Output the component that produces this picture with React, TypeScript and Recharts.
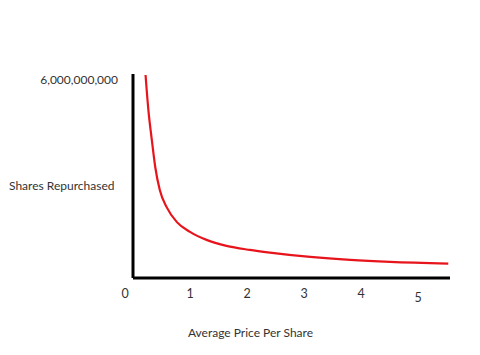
import { LineChart, Line, XAxis, YAxis, Label } from 'recharts'

// price per share vs shares repurchased (billions)
const prices = [0.22, 0.27, 0.33, 0.39, 0.47, 0.59, 0.77, 1.0, 1.29, 1.64, 2.05, 2.4, 3.11, 3.81, 4.51, 5.53]
const sharesBn = [6.07, 5.02, 4.13, 3.32, 2.63, 2.12, 1.67, 1.38, 1.14, 0.96, 0.84, 0.76, 0.63, 0.54, 0.48, 0.43]
const xTicks = [0, 1, 2, 3, 4, 5]
const yTicks = [6000000000]

const data = prices.map((p, i) => ({ price: p, shares: sharesBn[i] * 1e9 }))

const FONT = 'Lato, "Open Sans", sans-serif'
const TEXT = '#333'

function PriceTick({ x, y, payload }: any) {
  // hand-drawn look: the 0 sits left of the origin, the 5 a little lower
  const dx = payload.value === 0 ? -8 : 0
  const dy = payload.value === 5 ? 4 : 0
  return (
    <text x={x + dx} y={y + dy} dy={14} textAnchor="middle" fill={TEXT} fontSize={12.5} fontFamily={FONT}>
      {payload.value}
    </text>
  )
}

export default function App() {
  return (
    <div style={{ position: 'absolute', left: 0, top: 0, width: 480, height: 355, background: '#fff' }}>
      <LineChart width={480} height={355} data={data} margin={{ top: 74, right: 30, bottom: 0, left: 0 }}>
        <XAxis
          type="number"
          dataKey="price"
          domain={[0, 5.56]}
          ticks={xTicks}
          allowDataOverflow
          height={77}
          tickLine={false}
          tickSize={0}
          tickMargin={6}
          axisLine={{ stroke: '#000', strokeWidth: 3 }}
          tick={<PriceTick />}
        >
          <Label
            value="Average Price Per Share"
            position="insideBottom"
            offset={18}
            dx={-41}
            style={{ fontSize: 12, fontFamily: FONT, fill: TEXT }}
          />
        </XAxis>
        <YAxis
          type="number"
          domain={[0, 6.1e9]}
          ticks={yTicks}
          allowDataOverflow
          width={133}
          tickLine={false}
          tickSize={0}
          tickMargin={15}
          axisLine={{ stroke: '#000', strokeWidth: 3 }}
          tickFormatter={(v: number) => v.toLocaleString('en-US')}
          tick={{ fontSize: 12, fontFamily: FONT, fill: TEXT, dy: 2 }}
        >
          <Label
            value="Shares Repurchased"
            position="insideLeft"
            offset={9}
            dy={10}
            style={{ fontSize: 12, fontFamily: FONT, fill: TEXT, textAnchor: 'start' }}
          />
        </YAxis>
        <Line
          type="monotone"
          dataKey="shares"
          stroke="#e8141c"
          strokeWidth={2.2}
          dot={false}
          isAnimationActive={false}
        />
      </LineChart>
    </div>
  )
}
